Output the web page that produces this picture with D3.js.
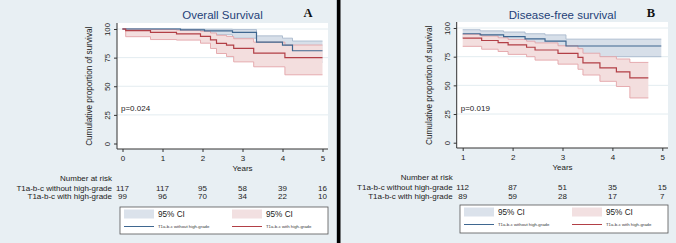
<!DOCTYPE html>
<html>
<head>
<meta charset="utf-8">
<script src="https://cdn.jsdelivr.net/npm/d3@7"></script>
<style>
  body { margin: 0; background: #e8eff3; }
  svg { display: block; font-family: "Liberation Sans", Arial, sans-serif; }
</style>
</head>
<body>
<svg id="chart" width="676" height="243"></svg>
<script>
// ******* Data *******
var yTicks = [0, 25, 50, 75, 100];
var osTicks = [0, 1, 2, 3, 4, 5];
var dfsTicks = [1, 2, 3, 4, 5];
var groupNames = ["T1a-b-c without high-grade", "T1a-b-c with high-grade"];

// overall survival - without high-grade
var osNoTime = [0, 1.45, 2.05, 2.75, 3.35, 4.0, 4.25];
var osNoSurv = [100, 99.2, 98.3, 97.0, 88.5, 86.0, 81.0];
var osNoLow  = [100, 97.0, 95.0, 92.0, 80.0, 77.0, 71.0];
var osNoHigh = [100, 100, 99.8, 99.5, 94.0, 92.0, 89.5];
var osNoEnd = 5;
// overall survival - with high-grade
var osHgTime = [0, 0.08, 0.7, 1.35, 1.95, 2.2, 2.35, 2.6, 2.78, 3.28, 4.06];
var osHgSurv = [100, 98.5, 97.0, 95.8, 93.5, 90.5, 87.5, 86.0, 83.0, 79.0, 75.0];
var osHgLow  = [100, 93.3, 90.8, 90.3, 87.6, 83.0, 78.6, 76.0, 71.3, 67.0, 60.0];
var osHgHigh = [100, 99.8, 99.5, 99.0, 98.0, 96.5, 94.5, 93.5, 91.5, 88.5, 86.0];
var osHgEnd = 5;

// disease-free survival - without high-grade
var dfsNoTime = [1.0, 1.35, 1.82, 2.25, 2.65, 3.07];
var dfsNoSurv = [95.0, 94.0, 92.5, 90.5, 88.5, 84.3];
var dfsNoLow  = [92.0, 90.5, 88.0, 85.5, 83.5, 75.0];
var dfsNoHigh = [98.5, 97.5, 96.5, 95.0, 94.0, 90.3];
var dfsNoEnd = 4.98;
// disease-free survival - with high-grade
var dfsHgTime = [1.0, 1.38, 1.71, 1.91, 2.28, 2.45, 2.91, 3.31, 3.41, 3.75, 4.08, 4.35];
var dfsHgSurv = [91.2, 89.1, 87.3, 85.3, 83.2, 80.8, 77.9, 74.4, 69.6, 65.2, 61.7, 56.5];
var dfsHgLow  = [84.0, 81.5, 79.5, 77.0, 75.0, 72.0, 68.5, 64.0, 59.0, 53.5, 49.0, 39.0];
var dfsHgHigh = [94.5, 93.0, 91.5, 90.0, 88.5, 87.0, 84.5, 82.0, 78.0, 75.0, 73.0, 70.0];
var dfsHgEnd = 4.72;

// number at risk
var osRiskNo = [117, 117, 95, 58, 39, 16];
var osRiskHg = [99, 96, 70, 34, 22, 10];
var dfsRiskNo = [112, 87, 51, 35, 15];
var dfsRiskHg = [89, 59, 28, 17, 7];

// ******* Styles *******
var blueLine = "#3f6790", redLine = "#b23f46";
var blueFill = "#d7dfe9", blueEdge = "#a9b9cd";
var redFill = "#f3dede", redEdge = "#e3a4a8";
var titleColor = "#1f3f78";

var svg = d3.select("#chart");

// step series -> points, repeating last value up to end time
function steps(time, vals, end) {
  var pts = time.map((t, i) => ({ t: t, v: vals[i] }));
  pts.push({ t: end, v: vals[vals.length - 1] });
  return pts;
}
function bandSteps(time, lo, hi, end) {
  var pts = time.map((t, i) => ({ t: t, lo: lo[i], hi: hi[i] }));
  pts.push({ t: end, lo: lo[lo.length - 1], hi: hi[hi.length - 1] });
  return pts;
}

function drawPanel(p) {
  var g = svg.append("g");
  var x = d3.scaleLinear().domain([p.ticks[0], 5]).range(p.xRange);
  var y = d3.scaleLinear().domain([0, 100]).range(p.yRange);

  // plot region
  g.append("rect")
    .attr("x", p.plot[0]).attr("y", p.plot[1])
    .attr("width", p.plot[2] - p.plot[0]).attr("height", p.plot[3] - p.plot[1])
    .attr("fill", "#fff");

  // grid lines
  g.selectAll(".grid").data(yTicks.slice(1)).enter().append("line")
    .attr("x1", p.plot[0]).attr("x2", p.plot[2])
    .attr("y1", d => y(d)).attr("y2", d => y(d))
    .attr("stroke", "#e3ecf0").attr("stroke-width", 1);

  // CI bands (blue first, red over it)
  var area = d3.area().curve(d3.curveStepAfter)
    .x(d => x(d.t)).y0(d => y(d.lo)).y1(d => y(d.hi));
  var line = d3.line().curve(d3.curveStepAfter)
    .x(d => x(d.t)).y(d => y(d.v));
  var lineLo = d3.line().curve(d3.curveStepAfter).x(d => x(d.t)).y(d => y(d.lo));
  var lineHi = d3.line().curve(d3.curveStepAfter).x(d => x(d.t)).y(d => y(d.hi));

  p.series.forEach(s => {
    var b = bandSteps(s.time, s.low, s.high, s.end);
    g.append("path").attr("d", area(b)).attr("fill", s.fill);
    g.append("path").attr("d", lineLo(b)).attr("fill", "none").attr("stroke", s.edge).attr("stroke-width", 0.9);
    g.append("path").attr("d", lineHi(b)).attr("fill", "none").attr("stroke", s.edge).attr("stroke-width", 0.9);
  });
  p.series.forEach(s => {
    g.append("path").attr("d", line(steps(s.time, s.surv, s.end)))
      .attr("fill", "none").attr("stroke", s.color).attr("stroke-width", 1.2);
  });

  // y axis
  var ya = g.append("g").attr("transform", `translate(${p.plot[0]},0)`)
    .call(d3.axisLeft(y).tickValues(yTicks).tickSize(3).tickSizeOuter(0));
  ya.attr("font-family", null);
  ya.select(".domain").attr("d", `M0,${p.plot[1]}V${p.plot[3]}`).attr("stroke", "#333");
  ya.selectAll(".tick line").attr("stroke", "#333");
  ya.selectAll(".tick text")
    .attr("x", null).attr("dy", null).attr("y", 0)
    .attr("transform", "translate(-7,0) rotate(-90)")
    .attr("text-anchor", "middle")
    .attr("font-size", 7.8).attr("fill", "#222");

  // x axis
  var xa = g.append("g").attr("transform", `translate(0,${p.plot[3]})`)
    .call(d3.axisBottom(x).tickValues(p.ticks).tickFormat(d3.format("d")).tickSize(3).tickSizeOuter(0));
  xa.attr("font-family", null);
  xa.select(".domain").attr("d", `M${p.plot[0]},0H${p.plot[2]}`).attr("stroke", "#333");
  xa.selectAll(".tick line").attr("stroke", "#333");
  xa.selectAll(".tick text").attr("y", p.xLabelY - p.plot[3]).attr("dy", null)
    .attr("font-size", 8).attr("fill", "#222");

  g.append("text").attr("x", x(3)).attr("y", p.xLabelY + 10.5)
    .attr("text-anchor", "middle").attr("font-size", 8).attr("fill", "#222").text("Years");

  // y title
  g.append("text")
    .attr("transform", `translate(${p.yTitleX},${(y(0) + y(100)) / 2}) rotate(-90)`)
    .attr("text-anchor", "middle").attr("font-size", 8.2).attr("fill", "#222")
    .text("Cumulative proportion of survival");

  // title and letter
  g.append("text").attr("x", p.titleX).attr("y", 19)
    .attr("text-anchor", "middle").attr("font-size", 11.5).attr("fill", titleColor)
    .text(p.title);
  g.append("text").attr("x", p.letterX).attr("y", 17)
    .attr("text-anchor", "middle").attr("font-size", 12.5).attr("font-weight", "bold")
    .attr("font-family", "'Liberation Serif', 'Times New Roman', serif")
    .attr("fill", "#111").text(p.letter);

  // p value
  g.append("text").attr("x", p.plot[0] + 4).attr("y", 111)
    .attr("font-size", 8).attr("fill", "#222").text(p.pval);

  // number at risk
  g.append("text").attr("x", p.riskLabelX).attr("y", p.riskY[0] + 3)
    .attr("text-anchor", "end").attr("font-size", 8).attr("fill", "#222").text("Number at risk");
  [p.riskNo, p.riskHg].forEach((row, r) => {
    var ry = p.riskY[r + 1] + 3;
    g.append("text").attr("x", p.riskLabelX).attr("y", ry)
      .attr("text-anchor", "end").attr("font-size", 8).attr("fill", "#222").text(groupNames[r]);
    g.selectAll(null).data(row).enter().append("text")
      .attr("x", (d, i) => x(p.ticks[i])).attr("y", ry)
      .attr("text-anchor", "middle").attr("font-size", 8).attr("fill", "#222").text(d => d);
  });

  // legend
  var lb = p.legend;
  var lg = g.append("g").attr("transform", `translate(${lb[0]},${lb[1]})`);
  lg.append("rect").attr("width", lb[2] - lb[0]).attr("height", lb[3] - lb[1])
    .attr("fill", "#fff").attr("stroke", "#555").attr("stroke-width", 0.8);
  [[4, "#dbe2eb", blueLine, groupNames[0]], [112, "#f2e0e1", redLine, groupNames[1]]].forEach(k => {
    lg.append("rect").attr("x", k[0]).attr("y", 2.5).attr("width", 30).attr("height", 9).attr("fill", k[1]);
    lg.append("text").attr("x", k[0] + 34).attr("y", 10).attr("font-size", 8.2).attr("fill", "#222").text("95% CI");
    lg.append("line").attr("x1", k[0]).attr("x2", k[0] + 30).attr("y1", 19.5).attr("y2", 19.5)
      .attr("stroke", k[2]).attr("stroke-width", 1);
    lg.append("text").attr("x", k[0] + 34).attr("y", 21).attr("font-size", 4.3).attr("fill", "#333").text(k[3]);
  });
}

// ******* Panels *******
drawPanel({
  title: "Overall Survival", letter: "A", pval: "p=0.024",
  ticks: osTicks, xRange: [122.5, 322.5], yRange: [143.5, 29],
  plot: [117, 23, 328, 149], xLabelY: 160.5, yTitleX: 92,
  titleX: 222.5, letterX: 308,
  riskLabelX: 112, riskY: [178, 187.7, 196.3],
  riskNo: osRiskNo, riskHg: osRiskHg,
  legend: [120, 207, 328, 234],
  series: [
    { time: osNoTime, surv: osNoSurv, low: osNoLow, high: osNoHigh, end: osNoEnd, color: blueLine, fill: blueFill, edge: blueEdge },
    { time: osHgTime, surv: osHgSurv, low: osHgLow, high: osHgHigh, end: osHgEnd, color: redLine, fill: redFill, edge: redEdge }
  ]
});

drawPanel({
  title: "Disease-free survival", letter: "B", pval: "p=0.019",
  ticks: dfsTicks, xRange: [462.7, 662.3], yRange: [142.7, 28],
  plot: [456.7, 22, 668, 148], xLabelY: 159.5, yTitleX: 431.5,
  titleX: 562.5, letterX: 651,
  riskLabelX: 452.7, riskY: [177, 186.7, 196],
  riskNo: dfsRiskNo, riskHg: dfsRiskHg,
  legend: [460, 205, 668, 233],
  series: [
    { time: dfsNoTime, surv: dfsNoSurv, low: dfsNoLow, high: dfsNoHigh, end: dfsNoEnd, color: blueLine, fill: blueFill, edge: blueEdge },
    { time: dfsHgTime, surv: dfsHgSurv, low: dfsHgLow, high: dfsHgHigh, end: dfsHgEnd, color: redLine, fill: redFill, edge: redEdge }
  ]
});

// separator between the two panels
svg.append("line").attr("x1", 336.5).attr("x2", 336.5).attr("y1", 0).attr("y2", 243)
  .attr("stroke", "#b8c2c8").attr("stroke-width", 1);
svg.append("rect").attr("x", 337).attr("y", 0).attr("width", 3.5).attr("height", 243).attr("fill", "#000");
</script>
</body>
</html>
